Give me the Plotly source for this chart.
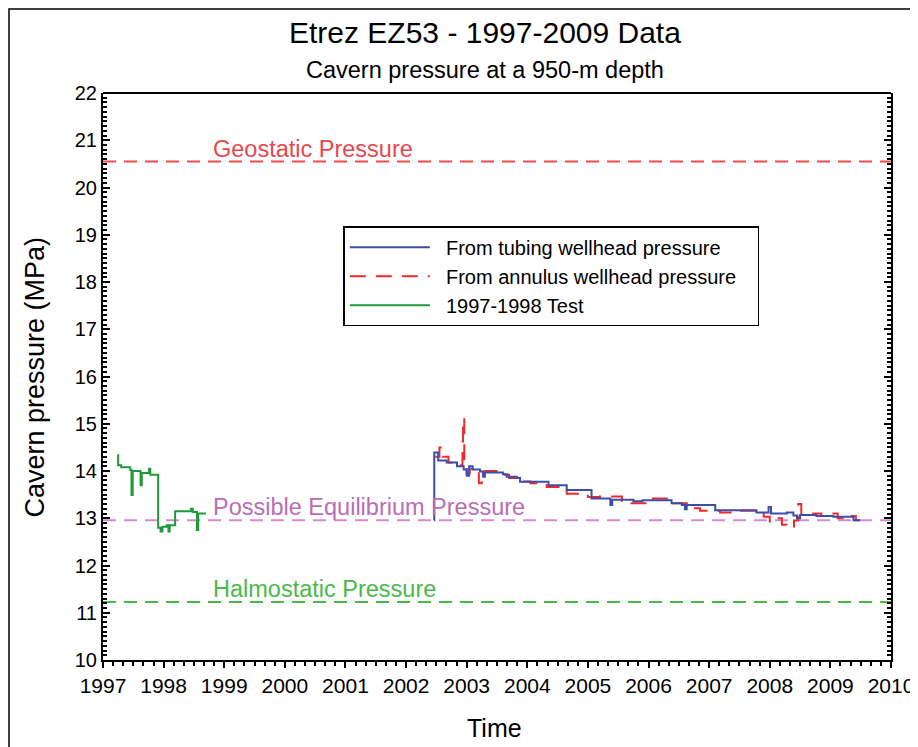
import plotly.graph_objects as go

# ---- data (decimal years, MPa) ----
tubing_t = [2002.46, 2002.465, 2002.53, 2002.67, 2002.84, 2002.95, 2003.0, 2003.04, 2003.1, 2003.22,
            2003.27, 2003.3, 2003.6, 2003.66, 2003.83, 2003.88, 2004.35, 2004.65, 2005.06, 2005.37,
            2005.40, 2005.75, 2005.9, 2006.38, 2006.55, 2006.6, 2006.63, 2007.1, 2007.78, 2007.98,
            2008.02, 2008.28, 2008.39, 2008.45, 2008.5, 2008.77, 2009.05, 2009.38, 2009.49]
tubing_p = [12.96, 14.39, 14.22, 14.18, 14.10, 14.03, 13.90, 14.10, 14.03, 13.99,
            13.88, 13.97, 13.93, 13.88, 13.85, 13.77, 13.70, 13.60, 13.42, 13.28,
            13.39, 13.36, 13.38, 13.32, 13.28, 13.19, 13.28, 13.17, 13.12, 13.24,
            13.10, 13.12, 13.06, 13.00, 13.07, 13.05, 13.03, 12.96, 12.96]

annulus_t = [2002.48, 2002.55, 2002.6, 2002.7, 2002.88, 2002.93, 2002.94, 2002.96, 2003.0, 2003.05,
             2003.15, 2003.2, 2003.25, 2003.3, 2003.55, 2003.7, 2003.9, 2004.05, 2004.32, 2004.65,
             2005.0, 2005.2, 2005.56, 2006.03, 2006.41, 2006.63, 2006.85, 2007.18, 2007.5, 2007.8,
             2007.9, 2008.0, 2008.1, 2008.2, 2008.28, 2008.4, 2008.47, 2008.52, 2008.72, 2008.85,
             2009.05, 2009.12, 2009.35, 2009.42, 2009.47]
annulus_p = [14.30, 14.50, 14.30, 14.18, 14.12, 14.62, 15.12, 14.20, 13.95, 14.05,
             13.95, 13.74, 13.90, 14.00, 13.92, 13.85, 13.78, 13.74, 13.66, 13.52,
             13.45, 13.46, 13.32, 13.42, 13.32, 13.21, 13.16, 13.12, 13.16, 13.10,
             13.03, 12.93, 13.00, 12.86, 12.80, 12.95, 13.30, 13.08, 13.10, 13.05,
             13.10, 13.00, 13.05, 12.96, 12.96]

test_t = [1997.24, 1997.25, 1997.30, 1997.45, 1997.47, 1997.49, 1997.62, 1997.64, 1997.76, 1997.78,
          1997.91, 1997.95, 1997.98, 1998.05, 1998.08, 1998.10, 1998.19, 1998.45, 1998.48, 1998.55,
          1998.57, 1998.68]
test_p = [14.34, 14.12, 14.08, 14.02, 13.49, 14.00, 13.70, 13.96, 14.05, 13.92,
          12.80, 12.72, 12.82, 12.85, 12.72, 12.85, 13.15, 13.20, 13.13, 12.75,
          13.10, 13.08]

ref_names = ["Geostatic Pressure", "Possible Equilibrium Pressure", "Halmostatic Pressure"]
ref_values = [20.55, 12.96, 11.23]
ref_colors = ["#f04a4a", "#d58ad0", "#49b849"]
ref_text_colors = ["#e8474d", "#b96db6", "#4cb84c"]

x_ticks = list(range(1997, 2011))
y_ticks = list(range(10, 23))

FONT = "Liberation Sans, Arial, sans-serif"
PAD = "\u00a0\u00a0"
TPAD = "\u00a0\u00a0\u00a0"

fig = go.Figure()
fig.add_trace(go.Scatter(x=annulus_t, y=annulus_p, mode="lines", line_shape="hv",
                         name=PAD + "From annulus wellhead pressure" + TPAD, legendrank=2,
                         line=dict(color="#f2292b", width=2, dash="16px,10px")))
fig.add_trace(go.Scatter(x=tubing_t, y=tubing_p, mode="lines", line_shape="hv",
                         name=PAD + "From tubing wellhead pressure", legendrank=1,
                         line=dict(color="#3c4ea8", width=2)))
fig.add_trace(go.Scatter(x=test_t, y=test_p, mode="lines", line_shape="hv",
                         name=PAD + "1997-1998 Test", legendrank=3,
                         line=dict(color="#1f9a3a", width=2)))

for name, val, col, tcol in zip(ref_names, ref_values, ref_colors, ref_text_colors):
    fig.add_shape(type="line", xref="paper", x0=0, x1=1, y0=val, y1=val, yref="y",
                  line=dict(color=col, width=2, dash="13px,8px"), layer="below")
    fig.add_annotation(x=1998.78, y=val, xref="x", yref="y", text=name, showarrow=False,
                       xanchor="left", yanchor="bottom", yshift=-2,
                       font=dict(family=FONT, size=23.5, color=tcol))

# top axis line (no ticks)
fig.add_shape(type="line", xref="paper", yref="paper", x0=0, x1=1, y0=1, y1=1,
              line=dict(color="black", width=2))
# outer frame
fig.add_shape(type="rect", xref="paper", yref="paper", x0=-0.1193, x1=1.03, y0=-0.2, y1=1.148,
              line=dict(color="black", width=1.5), fillcolor="rgba(0,0,0,0)")

fig.add_annotation(text="Etrez EZ53 - 1997-2009 Data", xref="paper", yref="paper",
                   x=0.485, y=1.106, xanchor="center", yanchor="middle", showarrow=False,
                   font=dict(family=FONT, size=30, color="black"))
fig.add_annotation(text="Cavern pressure at a 950-m depth", xref="paper", yref="paper",
                   x=0.485, y=1.041, xanchor="center", yanchor="middle", showarrow=False,
                   font=dict(family=FONT, size=23.5, color="black"))
fig.add_annotation(text="Cavern pressure (MPa)", xref="paper", yref="paper", textangle=-90,
                   x=-0.0863, y=0.5, xanchor="center", yanchor="middle", showarrow=False,
                   font=dict(family=FONT, size=27, color="black"))
fig.add_annotation(text="Time", xref="paper", yref="paper",
                   x=0.497, y=-0.12, xanchor="center", yanchor="middle", showarrow=False,
                   font=dict(family=FONT, size=25, color="black"))

fig.update_layout(
    width=910, height=739,
    margin=dict(l=95, r=27, t=85, b=87, autoexpand=False),
    paper_bgcolor="white", plot_bgcolor="white",
    font=dict(family=FONT, color="black"),
    showlegend=True,
    legend=dict(x=0.305, y=0.765, xanchor="left", yanchor="top",
                bordercolor="black", borderwidth=1.5, bgcolor="white",
                font=dict(family=FONT, size=20, color="black"),
                itemwidth=80, tracegroupgap=0),
)
fig.update_xaxes(range=[1997, 2010], tickvals=x_ticks, ticktext=[str(v) for v in x_ticks],
                 showline=True, linecolor="black", linewidth=2, mirror=False, automargin=False,
                 ticks="outside", ticklen=6, tickwidth=1.5, tickcolor="black",
                 minor=dict(dtick=1/6, tick0=1997, ticks="outside", ticklen=4, tickcolor="black"),
                 showgrid=False, zeroline=False,
                 tickfont=dict(family=FONT, size=21))
fig.update_yaxes(range=[10, 22], tickvals=y_ticks, ticktext=[str(v) for v in y_ticks],
                 showline=True, linecolor="black", linewidth=2, mirror="ticks", automargin=False,
                 ticks="inside", ticklen=7, tickwidth=1.5, tickcolor="black",
                 minor=dict(dtick=0.1, tick0=10, ticks="inside", ticklen=4, tickcolor="black"),
                 showgrid=False, zeroline=False,
                 tickfont=dict(family=FONT, size=20))

fig.write_html("out.html")
